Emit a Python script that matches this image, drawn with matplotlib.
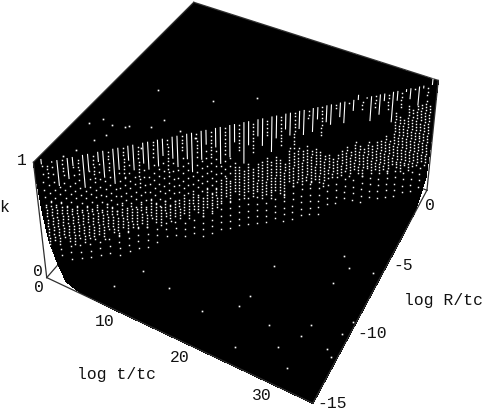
import numpy as np
import matplotlib
matplotlib.use('Agg')
import matplotlib.pyplot as plt

# surface table, k
t_vals = [0, .25, .5, 1, 2, 3, 5, 10, 15, 20, 25, 30, 32, 33, 34, 34.5, 35]
r_vals = [-15, -14.5, -14, -12, -10, -8, -6, -4, -2, -1, -.5, -.25, -.1, 0]
k_table = [
    [.99, .80, .60, .37, .18, .05, .01, 0, 0, 0, 0, 0, 0, 0, 0, 0, 0],
    [.99, .99, .99, .99, .45, .20, .03, 0, 0, 0, 0, 0, 0, 0, 0, 0, 0],
    [.99, .99, .99, .99, .99, .50, .09, 0, 0, 0, 0, 0, 0, 0, 0, 0, 0],
    [.99, .99, .99, .99, .99, .99, .99, .05, 0, 0, 0, 0, 0, 0, 0, 0, 0],
    [.99, .99, .99, .99, .99, .99, .99, .99, .04, 0, 0, 0, 0, 0, 0, 0, 0],
    [.99, .99, .99, .99, .99, .99, .99, .99, .99, .03, 0, 0, 0, 0, 0, 0, 0],
    [.99, .99, .99, .99, .99, .99, .99, .99, .99, .99, .02, 0, 0, 0, 0, 0, 0],
    [.99, .99, .99, .99, .99, .99, .99, .99, .99, .99, .99, .02, 0, 0, 0, 0, 0],
    [.99, .99, .99, .99, .99, .99, .99, .99, .99, .99, .99, .99, .22, .09, .03, .02, .01],
    [.99, .99, .99, .99, .99, .99, .99, .99, .99, .99, .99, .99, .99, .72, .30, .20, .12],
    [.99, .99, .99, .99, .99, .99, .99, .99, .99, .99, .99, .99, .99, .99, .85, .50, .18],
    [.99, .99, .99, .99, .99, .99, .99, .99, .99, .99, .99, .99, .99, .99, .99, .90, .45],
    [.99, .99, .99, .99, .99, .99, .99, .99, .99, .99, .99, .99, .99, .99, .99, .99, .85],
    [.99, .99, .99, .99, .99, .99, .99, .99, .99, .99, .99, .99, .99, .99, .99, .99, .99],
]

# white gaps in the mesh along the step, read at 28 stations along the diagonal
streak_bot = [.91, .86, .83, .80, .78, .78, .77, .78, .78, .77, .77, .76, .76, .75, .74, .77, .77, .79, .80, .82, .86, .92, .91, .86, .84, .86, .91, .94]
dense_top = [.63, .58, .53, .51, .48, .47, .45, .44, .41, .43, .43, .44, .52, .60, .59, .61, .59, .65, .64, .59, .52, .56, .58, .57, .57, .74, .81, .82]
dense_bot = [.29, .27, .25, .25, .26, .26, .27, .27, .27, .27, .27, .27, .34, .35, .33, .28, .28, .34, .33, .30, .34, .33, .31, .30, .27, .28, .25, .27]
low_bot = [.18, .11, .08, .08, .07, .07, .08, .09, .11, .08, .07, .07, .08, .07, .05, .03, .04, .03, .04, .01, .07, .09, .05, .07, .04, .01, .02, .04]
n_sparse_upper = 13
streak_cycle = [0, .12, .04, .19, .08, .15, .02, .10, .22, .06, .13]
band_cycle = [0, .03, -.02, .05, .01, -.03, .04, -.01, .02]

# stray gaps on the floor and on the plateau
floor_t = [7.7, 9.5, 13.7, 18.7, 22.2, 22.6, 23.1, 26.4, 24.4, 28.6, 30.7, 30.2, 30.6, 30.4, 31.1, 34.2, 33.6, 34.3, 29.8, 34, 34.7]
floor_r = [-13.8, -12.3, -12.6, -13, -11.9, -11.1, -8.85, -12.2, -14.1, -13.1, -13.9, -12, -11.2, -8.4, -7.1, -11, -12.1, -12.4, -6.5, -6.8, -10.1]
top_t = [5.6, 4.5, 2.9, 9.2, 9, 11.6, 13.8, 8.3, 4.1, 2.2, 3.7, 5.9, 1.6, 2.5, 5.4, 12.4, 16.7]
top_r = [-10.8, -11.7, -13.3, -11.7, -9.4, -9.7, -9.8, -10.2, -11, -13.9, -12.3, -10.6, -11.4, -10.8, -7.6, -7, -5.7]

t_ticks = ['0', '10', '20', '30']
r_ticks = ['0', '-5', '-10', '-15']

W, H = 485, 413
fig = plt.figure(figsize=(W/100, H/100), dpi=100)
ax = fig.add_axes([34.73/W, -28.15/H, 411.00/W, 513.71/H], projection='3d', computed_zorder=False)
ax.apply_aspect = lambda position=None: None  # keep the stretched box
ax.set_xlim(0, 35)
ax.set_ylim(-15, 0)
ax.set_zlim(0, 1)
ax.view_init(elev=35.143, azim=-61.851, roll=-0.127)
ax.set_proj_type('persp', focal_length=0.4563)
ax.set_box_aspect((1, 1.0034, 0.3813))
ax.set_axis_off()


def edge(t0, r0, k0, t1, r1, k1, z):
    ax.plot([t0, t1], [r0, r1], [k0, k1], color='#303030', lw=0.9, zorder=z, clip_on=False)


# back floor edges show through the gaps at the corners
edge(0, -15, 0, 0, 0, 0, 1)
edge(35, 0, 0, 0, 0, 0, 1)

T, R = np.meshgrid(t_vals, r_vals)
ax.plot_surface(T, R, np.array(k_table), rstride=1, cstride=1, color='k', edgecolor='k',
                linewidth=0.4, shade=False, antialiased=False, zorder=2, clip_on=False)

# front and top edges of the box
edge(0, -15, 0, 35, -15, 0, 3)
edge(35, -15, 0, 35, 0, 0, 3)
edge(0, -15, 0, 0, -15, 1, 3)
edge(35, 0, 0, 35, 0, 1, 3)
edge(0, -15, 1, 0, 0, 1, 3)
edge(0, 0, 1, 35, 0, 1, 3)

# mesh gaps: columns stand on the diagonal of the floor
n_per = 3
stations = np.linspace(.017, .985, len(streak_bot)*n_per)
for j, s in enumerate(stations):
    i = j // n_per
    t, r = 35*s, -15 + 15*s
    sb = streak_bot[i] + .1 - streak_cycle[j % len(streak_cycle)]
    shift = band_cycle[j % len(band_cycle)]
    parts = [np.arange(dense_bot[i] + shift, dense_top[i] + shift, .027)]
    if j % 3 == 1:
        # dotted instead of solid at the top
        parts.append(np.arange(sb, .975, .03))
    else:
        ax.plot([t, t], [r, r], [.975, sb], color='w', lw=0.8, zorder=4, clip_on=False)
    if i < n_sparse_upper:
        parts.append(np.arange(dense_top[i] + shift, sb, .065))
    if j % 2 == 0:
        parts.append(np.arange(low_bot[i] + shift/2, dense_bot[i], .06))
    dots = np.concatenate(parts)
    ax.plot(np.full(len(dots), t), np.full(len(dots), r), dots, ls='', marker='s', ms=1.05, mew=0,
            color='w', zorder=4, clip_on=False)

ax.plot(floor_t, floor_r, np.zeros(len(floor_t)), ls='', marker='s', ms=1.2, mew=0, color='w', zorder=4, clip_on=False)
ax.plot(top_t, top_r, np.full(len(top_t), .99), ls='', marker='s', ms=1.2, mew=0, color='w', zorder=4, clip_on=False)


# labels, placed as in the picture
def label(x, y, s):
    fig.text(x/W, 1-y/H, s, family='Liberation Mono', fontsize=11.8, ha='center', va='center', color='#111111')


label(22, 160, '1')
label(4, 207, 'k')
label(38, 272, '0')
label(39, 287, t_ticks[0])
label(105, 321, t_ticks[1])
label(180, 357, t_ticks[2])
label(262, 396, t_ticks[3])
label(117, 375, 'log t/tc')
label(430, 205, r_ticks[0])
label(403, 265, r_ticks[1])
label(372, 333, r_ticks[2])
label(332, 404, r_ticks[3])
label(444, 301, 'log R/tc')

fig.savefig('out.png', dpi=100)
